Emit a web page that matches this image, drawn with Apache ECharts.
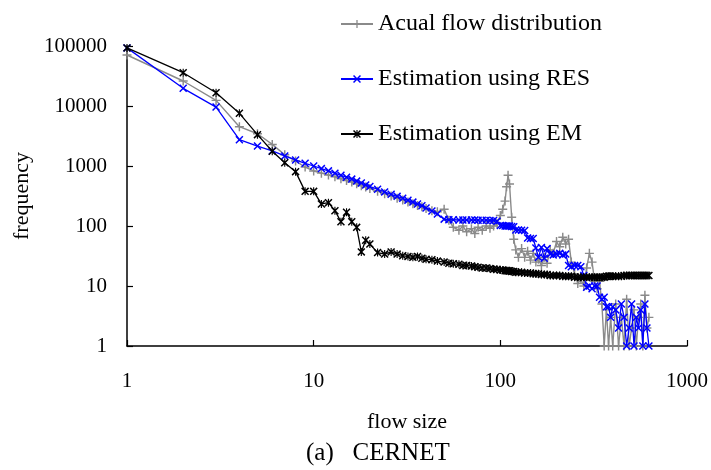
<!DOCTYPE html>
<html>
<head>
<meta charset="utf-8">
<script src="https://cdn.jsdelivr.net/npm/echarts@6/dist/echarts.min.js"></script>
<style>html,body{margin:0;padding:0;background:#fff;}#c{width:711px;height:470px;}</style>
</head>
<body>
<div id="c"></div>
<script>
// flow sizes (x)
var flowSize = [1,2,3,4,5,6,7,8,9,10,11,12,13,14,15,16,17,18,19,20,
  22,24,26,28,30,32,34,36,38,40,
  43,46,50,53,56,60,63,66,70,73,76,80,84,88,92,96,100,
  103,106,108,110,112,115,118,121,125,130,135,140,145,150,155,160,166,172,178,185,192,200,
  208,216,224,232,240,250,260,270,280,290,300,
  310,320,330,340,350,360,370,380,390,400,
  415,430,445,460,475,490,505,520,535,550,565,580,595,610,625];
// Actual flow distribution
var actual = [70800,26100,12400,4520,3450,2290,1540,1210,960,826,760,708,660,615,575,540,505,470,445,420,
  380,345,315,290,270,250,235,220,210,195,
  180,172,190,125,95,85,100,80,90,75,95,85,100,92,100,110,150,
  190,260,450,700,500,140,60,40,30,42,30,38,27,35,25,28,22,30,24,40,35,55,
  45,65,50,60,25,16,11,13,10,20,35,
  25,12,9,12,5,1,4,1,3,1,
  5,1,3,1,6,1,2,4,1,3,5,1,7,2,3];
// Estimation using RES
var res = [93000,19700,9600,2740,2150,1780,1470,1260,1110,1000,905,830,760,700,650,605,560,520,482,455,
  410,370,338,312,290,268,250,232,218,200,
  178,158,130,127,127,126,126,126,126,126,125,125,125,124,124,120,102,
  102,100,100,100,100,98,97,86,86,85,84,63,62,62,43,30,44,29,42,34,33,34,
  35,33,34,22,21,22,22,21,15,9.5,10,
  9,10,10,6.5,6,6.5,4.5,4.5,3,4.5,
  4,2,5,3,1,2,5,1,3,2,4,1,5,2,1];
// Estimation using EM
var em = [93000,35900,16600,7550,3330,1760,1135,805,378,378,233,245,180,118,170,118,95,37,58,50,
  36,34,37,34,32,31,30,31,29,28,
  27.5,26,25,24,23.5,23,22,22,21.5,21,20.5,20,20,19.5,19,19,18.5,
  18.5,18,18,18,18,17.5,17.5,17,17,17,16.5,16.5,16.5,16,16,16,15.5,15.5,15.5,15,15,15,
  15,14.5,14.5,14.5,14.5,14,14,14,14,14,14,
  14,14,14,14,14,14,14.5,14.5,14.5,14.5,
  14.5,14.5,14.5,15,15,15,15,15,15,15,15,15,15,15,15];
var seriesNames = ['Acual flow distribution','Estimation using RES','Estimation using EM'];
var xTicks = [1,10,100,1000];
var yTicks = [1,10,100,1000,10000,100000];
var caption = '(a)   CERNET';

var plusSym = 'path://M4.2,0H5.8V10H4.2Z M0,4.2H10V5.8H0Z';
var crossSym = 'path://M0,1.3L1.3,0L10,8.7L8.7,10Z M8.7,0L10,1.3L1.3,10L0,8.7Z';
var starSym = 'path://M0,1.3L1.3,0L10,8.7L8.7,10Z M8.7,0L10,1.3L1.3,10L0,8.7Z M4.3,0H5.7V10H4.3Z';

function pairs(ys){ return flowSize.map(function(x,i){ return [x, ys[i]]; }); }
var font = 'Liberation Serif';
var chart = echarts.init(document.getElementById('c'), null, {renderer:'canvas'});
chart.setOption({
  animation:false,
  backgroundColor:'#fff',
  title:{text:caption, left:306, top:441, padding:0,
    textStyle:{fontFamily:font, fontSize:25, fontWeight:'normal', color:'#000'}},
  grid:{left:127, right:21, top:46, bottom:124, containLabel:false},
  legend:{
    orient:'vertical', left:335, top:7, itemGap:31, itemWidth:32, itemHeight:10,
    textStyle:{fontFamily:font, fontSize:24, color:'#000', lineHeight:24},
    data:seriesNames
  },
  xAxis:{
    type:'log', logBase:10, min:1, max:1000,
    name:'flow size', nameLocation:'middle', nameGap:65,
    nameTextStyle:{fontFamily:font, fontSize:22, color:'#000'},
    axisLine:{lineStyle:{color:'#000', width:1.5}},
    axisTick:{inside:true, length:6, lineStyle:{color:'#000', width:1.2}},
    axisLabel:{fontFamily:font, fontSize:21, color:'#000', margin:25,
      formatter:function(v){ return xTicks.indexOf(v)>=0 ? String(v) : ''; }},
    splitLine:{show:false}, minorTick:{show:false}
  },
  yAxis:{
    type:'log', logBase:10, min:1, max:100000,
    name:'frequency', nameLocation:'middle', nameGap:94, nameRotate:90,
    nameTextStyle:{fontFamily:font, fontSize:22, color:'#000'},
    axisLine:{show:true, lineStyle:{color:'#000', width:1.5}},
    axisTick:{show:true, inside:true, length:6, lineStyle:{color:'#000', width:1.2}},
    axisLabel:{fontFamily:font, fontSize:21, color:'#000', margin:20,
      formatter:function(v){ return yTicks.indexOf(v)>=0 ? String(v) : ''; }},
    splitLine:{show:false}
  },
  series:[
    {name:seriesNames[0], type:'line', data:pairs(actual), symbol:plusSym, symbolSize:9,
     itemStyle:{color:'#8a8a8a'}, lineStyle:{color:'#8a8a8a', width:1.4}, z:2},
    {name:seriesNames[1], type:'line', data:pairs(res), symbol:crossSym, symbolSize:8,
     itemStyle:{color:'#0000ff'}, lineStyle:{color:'#0000ff', width:1.3}, z:3},
    {name:seriesNames[2], type:'line', data:pairs(em), symbol:starSym, symbolSize:8,
     itemStyle:{color:'#000'}, lineStyle:{color:'#000', width:1.3}, z:4}
  ]
});
</script>
</body>
</html>
